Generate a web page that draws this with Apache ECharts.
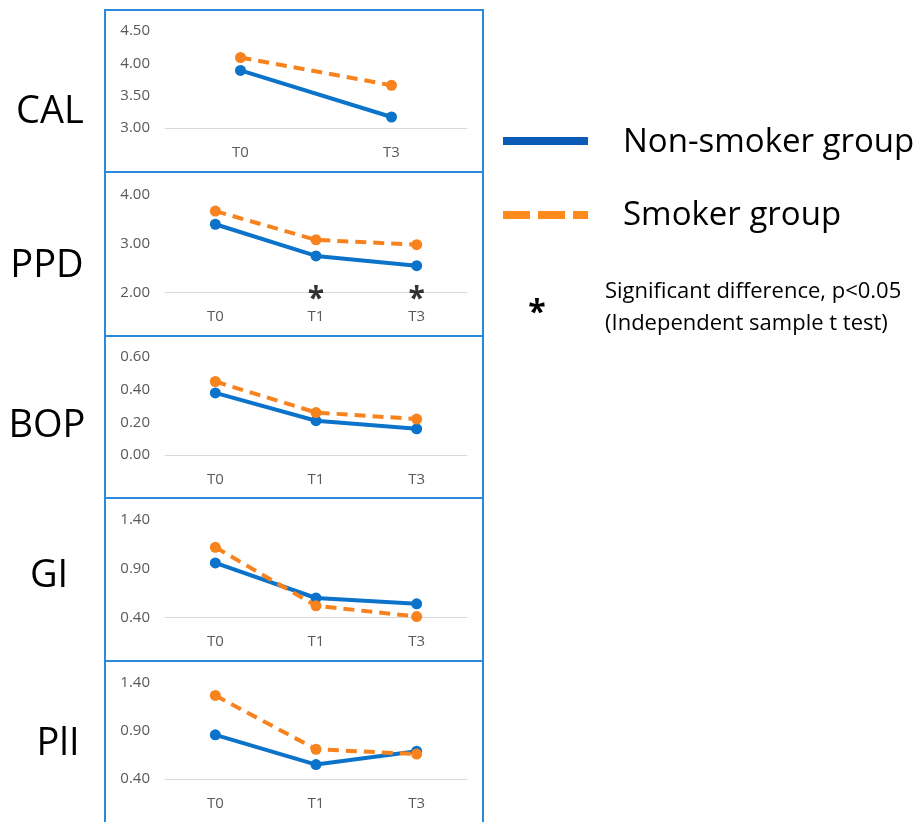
<!DOCTYPE html>
<html>
<head>
<meta charset="utf-8">
<script src="https://cdn.jsdelivr.net/npm/echarts@6/dist/echarts.min.js"></script>
<style>html,body{margin:0;padding:0;background:#fff;}#c{width:922px;height:822px;}</style>
</head>
<body>
<div id="c"></div>
<script>
// ---- data ----
const catsCAL = ['T0', 'T3'];
const cats3 = ['T0', 'T1', 'T3'];
const panelNames = ['CAL', 'PPD', 'BOP', 'GI', 'PlI'];
const calNon = [3.89, 3.17];
const calSmk = [4.09, 3.66];
const ppdNon = [3.40, 2.75, 2.55];
const ppdSmk = [3.67, 3.08, 2.98];
const bopNon = [0.38, 0.21, 0.16];
const bopSmk = [0.45, 0.26, 0.22];
const giNon = [0.96, 0.60, 0.54];
const giSmk = [1.12, 0.52, 0.41];
const pliNon = [0.86, 0.55, 0.69];
const pliSmk = [1.27, 0.71, 0.66];
const ppdSignificant = ['T1', 'T3'];
const yMins = [3.0, 2.0, 0.0, 0.4, 0.4];
const yMaxs = [4.5, 4.0, 0.6, 1.4, 1.4];
const yIntervals = [0.5, 1.0, 0.2, 0.5, 0.5];
const legendNon = 'Non-smoker group';
const legendSmk = 'Smoker group';
const sigText1 = 'Significant difference, p<0.05';
const sigText2 = '(Independent sample t test)';

// ---- layout ----
const FONT = '"Open Sans", "Noto Sans", sans-serif';
const BLUE = '#0B73C9';
const ORANGE = '#F8831E';
const gridTops = [31, 195, 357, 520, 683];
const gridHeights = [97, 97.5, 98, 97.5, 96];
const boxes = [[10, 172], [172, 336], [336, 498], [498, 661], [661, 840]];
const labelPos = [[50, 112], [47, 266], [47, 426], [49, 576], [58, 744]];

const catsPerPanel = [catsCAL, cats3, cats3, cats3, cats3];
const nonData = [calNon, ppdNon, bopNon, giNon, pliNon];
const smkData = [calSmk, ppdSmk, bopSmk, giSmk, pliSmk];

const grids = [], xAxes = [], yAxes = [], series = [];
for (let i = 0; i < 5; i++) {
  grids.push({left: 165, width: 302, top: gridTops[i], height: gridHeights[i], containLabel: false});
  xAxes.push({
    type: 'category', gridIndex: i, data: catsPerPanel[i], boundaryGap: true,
    axisLine: {show: true, lineStyle: {color: '#D9D9D9', width: 1}},
    axisTick: {show: false},
    axisLabel: {color: '#595959', fontFamily: FONT, fontSize: 15, margin: 17}
  });
  yAxes.push({
    type: 'value', gridIndex: i, min: yMins[i], max: yMaxs[i], interval: yIntervals[i],
    axisLine: {show: false}, axisTick: {show: false}, splitLine: {show: false},
    axisLabel: {color: '#595959', fontFamily: FONT, fontSize: 15, margin: 15,
      formatter: v => v.toFixed(2)}
  });
  series.push({
    type: 'line', xAxisIndex: i, yAxisIndex: i, data: nonData[i],
    symbol: 'circle', symbolSize: 11, lineStyle: {color: BLUE, width: 4},
    itemStyle: {color: BLUE}, animation: false, z: 2
  });
  series.push({
    type: 'line', xAxisIndex: i, yAxisIndex: i, data: smkData[i],
    symbol: 'circle', symbolSize: 11, lineStyle: {color: ORANGE, width: 4, type: [11, 7]},
    itemStyle: {color: ORANGE}, animation: false, z: 3
  });
}
series.push({
  type: 'scatter', xAxisIndex: 1, yAxisIndex: 1,
  data: ppdSignificant.map(c => [c, yMins[1]]),
  symbolSize: 1, itemStyle: {color: 'rgba(0,0,0,0)'}, animation: false, z: 5,
  label: {show: true, position: 'inside', formatter: '*', color: '#000',
    fontFamily: FONT, fontWeight: 'bold', fontSize: 30, offset: [0, 7]}
});

const graphics = [];
boxes.forEach(b => {
  graphics.push({type: 'rect', shape: {x: 105, y: b[0], width: 378, height: b[1] - b[0]},
    style: {fill: null, stroke: '#2A8AD9', lineWidth: 2}, z: 1});
});
panelNames.forEach((n, i) => {
  graphics.push({type: 'text', x: labelPos[i][0], y: labelPos[i][1],
    style: {text: n, font: '38px ' + FONT, fill: '#000', textAlign: 'center', textVerticalAlign: 'middle'}});
});
// legend
graphics.push({type: 'line', shape: {x1: 503, y1: 141, x2: 588, y2: 141},
  style: {stroke: '#0A5CB8', lineWidth: 8}});
graphics.push({type: 'line', shape: {x1: 503, y1: 215, x2: 588, y2: 215},
  style: {stroke: '#FF8A1C', lineWidth: 8, lineDash: [27, 8]}});
graphics.push({type: 'text', x: 623, y: 143,
  style: {text: legendNon, font: '33px ' + FONT, fill: '#000', textVerticalAlign: 'middle'}});
graphics.push({type: 'text', x: 623, y: 216,
  style: {text: legendSmk, font: '33px ' + FONT, fill: '#000', textVerticalAlign: 'middle'}});
graphics.push({type: 'text', x: 537, y: 314,
  style: {text: '*', font: 'bold 32px ' + FONT, fill: '#000', textAlign: 'center', textVerticalAlign: 'middle'}});
graphics.push({type: 'text', x: 605, y: 292,
  style: {text: sigText1, font: '22px ' + FONT, fill: '#000', textVerticalAlign: 'middle'}});
graphics.push({type: 'text', x: 605, y: 324,
  style: {text: sigText2, font: '22px ' + FONT, fill: '#000', textVerticalAlign: 'middle'}});

const chart = echarts.init(document.getElementById('c'), null, {renderer: 'canvas'});
chart.setOption({
  backgroundColor: '#fff',
  animation: false,
  grid: grids, xAxis: xAxes, yAxis: yAxes, series: series,
  graphic: {elements: graphics}
});
</script>
</body>
</html>
